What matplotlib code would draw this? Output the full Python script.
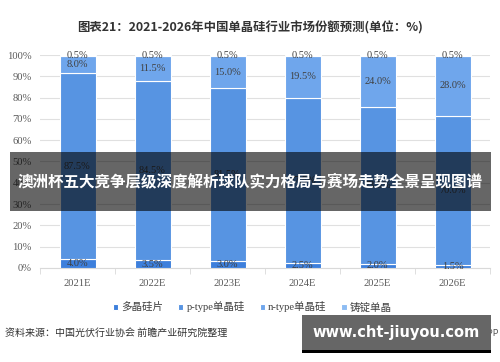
import matplotlib
matplotlib.use("Agg")
import matplotlib.pyplot as plt
from matplotlib.patches import Rectangle
import numpy as np

plt.rcParams['font.family'] = ['Noto Sans CJK SC', 'DejaVu Sans']

years = ["2021E", "2022E", "2023E", "2024E", "2025E", "2026E"]
poly = [4.0, 3.5, 3.0, 2.5, 2.0, 1.5]           # 多晶硅片
p_type = [87.5, 84.5, 81.5, 77.5, 73.5, 70.0]   # p-type单晶硅
n_type = [8.0, 11.5, 15.0, 19.5, 24.0, 28.0]    # n-type单晶硅
cast = [0.5, 0.5, 0.5, 0.5, 0.5, 0.5]           # 铸锭单晶

series = [
    ("多晶硅片", poly, "#3d7fdc"),
    ("p-type单晶硅", p_type, "#5794e2"),
    ("n-type单晶硅", n_type, "#6fa6ec"),
    ("铸锭单晶", cast, "#8dbcf3"),
]

fig = plt.figure(figsize=(5, 3.62), dpi=100)
ax = fig.add_axes([0.08, 0.26, 0.90, 0.588])

x = np.arange(len(years))
bottom = np.zeros(len(years))
handles = []
for name, vals, col in series:
    vals = np.array(vals)
    b = ax.bar(x, vals, 0.48, bottom=bottom, color=col, edgecolor="white",
               linewidth=0.8, label=name, zorder=3)
    handles.append(b)
    for xi, v, bt in zip(x, vals, bottom):
        ax.text(xi, bt + v / 2, f"{v:.1f}%", ha="center", va="center",
                fontsize=7.5, color="#404040", family="Liberation Serif", zorder=4)
    bottom += vals

ax.set_xlim(-0.5, len(years) - 0.5)
ax.set_ylim(0, 100)
ax.set_yticks(np.arange(0, 101, 10))
ax.set_yticklabels([f"{v}%" for v in range(0, 101, 10)], family="Liberation Serif",
                   fontsize=7.6, color="#595959")
ax.yaxis.grid(True, color="#e0e0e0", linewidth=0.8, zorder=0)
ax.tick_params(axis="y", length=0, pad=6)
ax.set_xticks(x)
ax.set_xticklabels(years, family="Liberation Serif", fontsize=7.6, color="#595959")
ax.set_xticks(np.arange(-0.5, len(years), 1), minor=True)
ax.tick_params(axis="x", which="major", length=0, pad=8)
ax.tick_params(axis="x", which="minor", length=4, color="#d9d9d9")
for s in ["top", "right", "left"]:
    ax.spines[s].set_visible(False)
ax.spines["bottom"].set_color("#d9d9d9")

ax.legend(handles=handles, loc="center", bbox_to_anchor=(0.472, -0.183), ncol=4,
          frameon=False, handlelength=0.5, handleheight=0.5,
          columnspacing=1.4, handletextpad=0.3, labelcolor="#404040",
          prop={"family": ["Liberation Serif", "Noto Sans CJK SC"], "size": 7.6})

fig.text(0.5, 1 - 28 / 362, "图表21：2021-2026年中国单晶硅行业市场份额预测(单位：%)",
         ha="center", va="center", fontsize=8.9, fontweight="bold", color="#333333")
fig.text(0.01, 1 - 333 / 362, "资料来源：中国光伏行业协会 前瞻产业研究院整理",
         ha="left", va="center", fontsize=7.2, color="#333333")
fig.text(0.998, 1 - 333 / 362, "@前瞻经济学人APP", ha="right", va="center",
         fontsize=6.5, color="#555555")

# overlay banner
fig.patches.append(Rectangle((10 / 500, 1 - 211 / 362), 481 / 500, 59 / 362,
                             transform=fig.transFigure, facecolor="black",
                             alpha=0.6, zorder=5))
fig.text(0.5, 1 - 181 / 362, "澳洲杯五大竞争层级深度解析球队实力格局与赛场走势全景呈现图谱",
         ha="center", va="center", fontsize=11.2, fontweight="bold", color="white", zorder=6)

# bottom-right site box
fig.patches.append(Rectangle((302 / 500, 1 - 350 / 362), 189 / 500, 35 / 362,
                             transform=fig.transFigure, facecolor="#666666", zorder=5))
fig.patches.append(Rectangle((302 / 500, 1 - 353 / 362), 189 / 500, 3 / 362,
                             transform=fig.transFigure, facecolor="black", zorder=5))
fig.text(396 / 500, 1 - 333 / 362, "www.cht-jiuyou.com", ha="center", va="center",
         fontsize=10.5, fontweight="bold", color="white", family="DejaVu Sans", zorder=6)

fig.savefig("out.png", dpi=100)
